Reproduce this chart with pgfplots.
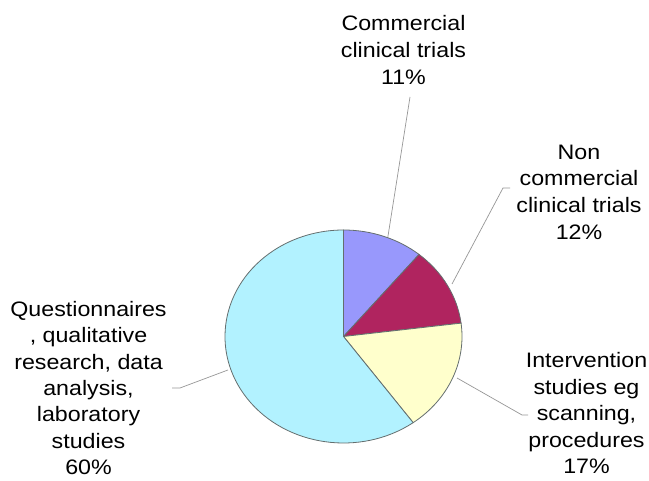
\documentclass[border=0pt]{standalone}
\usepackage{pgfplots}
\pgfplotsset{compat=1.18}
\usepackage{pgfplotstable}
\usepackage{fontspec}
\setmainfont[FakeStretch=1.11]{Liberation Sans}
\definecolor{cLav}{RGB}{152,152,252}
\definecolor{cMar}{RGB}{176,36,95}
\definecolor{cYel}{RGB}{255,255,204}
\definecolor{cCya}{RGB}{178,242,255}
\definecolor{cEdge}{RGB}{100,110,110}
\definecolor{cLead}{RGB}{150,150,150}
\pgfplotstableread{
label pct
Commercial 11
NonCommercial 12
Intervention 17
Questionnaires 60
}\piedata
\begin{document}
\begin{tikzpicture}
\pgfplotstablegetelem{0}{pct}\of\piedata \let\pA\pgfplotsretval
\pgfplotstablegetelem{1}{pct}\of\piedata \let\pB\pgfplotsretval
\pgfplotstablegetelem{2}{pct}\of\piedata \let\pC\pgfplotsretval
\pgfplotstablegetelem{3}{pct}\of\piedata \let\pD\pgfplotsretval
\pgfmathsetmacro\aA{90}
\pgfmathsetmacro\aB{\aA-3.6*\pA}
\pgfmathsetmacro\aC{\aB-3.6*\pB}
\pgfmathsetmacro\aD{\aC-3.6*\pC}
\pgfmathsetmacro\aE{\aD-3.6*\pD}
\begin{axis}[name=ax, x=1bp, y=1bp, xmin=0, xmax=649, ymin=0, ymax=481,
  hide axis, clip=false]
% leader lines
\draw[cLead, line width=0.7bp] (axis cs:385,226) -- (axis cs:410,384);
\draw[cLead, line width=0.7bp] (axis cs:452,197) -- (axis cs:503,293) -- (axis cs:510,293);
\draw[cLead, line width=0.7bp] (axis cs:457,103) -- (axis cs:522,66) -- (axis cs:528,66);
\draw[cLead, line width=0.7bp] (axis cs:228,111) -- (axis cs:180,93) -- (axis cs:172,93);
% wedges
\filldraw[fill=cLav, draw=cEdge, line width=0.8bp] (axis cs:343.5,144.5) -- ++(\aA:118.5bp and 106.5bp)
   arc[start angle=\aA, end angle=\aB, x radius=118.5bp, y radius=106.5bp] -- cycle;
\filldraw[fill=cMar, draw=cEdge, line width=0.8bp] (axis cs:343.5,144.5) -- ++(\aB:118.5bp and 106.5bp)
   arc[start angle=\aB, end angle=\aC, x radius=118.5bp, y radius=106.5bp] -- cycle;
\filldraw[fill=cYel, draw=cEdge, line width=0.8bp] (axis cs:343.5,144.5) -- ++(\aC:118.5bp and 106.5bp)
   arc[start angle=\aC, end angle=\aD, x radius=118.5bp, y radius=106.5bp] -- cycle;
\filldraw[fill=cCya, draw=cEdge, line width=0.8bp] (axis cs:343.5,144.5) -- ++(\aD:118.5bp and 106.5bp)
   arc[start angle=\aD, end angle=\aE, x radius=118.5bp, y radius=106.5bp] -- cycle;
% labels
\tikzset{lab/.style={align=center, inner sep=0pt, font=\fontsize{21}{27}\selectfont}}
\node[lab] at (axis cs:403.5,431) {Commercial\\clinical trials\\11\%};
\node[lab, font=\fontsize{21}{26.7}\selectfont] at (axis cs:579,289) {Non\\commercial\\clinical trials\\12\%};
\node[lab, font=\fontsize{21}{26.6}\selectfont] at (axis cs:586.5,68) {Intervention\\studies eg\\scanning,\\procedures\\17\%};
\node[lab, font=\fontsize{21}{26.5}\selectfont] at (axis cs:88.5,93) {Questionnaires\\, qualitative\\research, data\\analysis,\\laboratory\\studies\\60\%};
\end{axis}
\pgfresetboundingbox
\useasboundingbox (ax.south west) rectangle (ax.north east);
\end{tikzpicture}
\end{document}
